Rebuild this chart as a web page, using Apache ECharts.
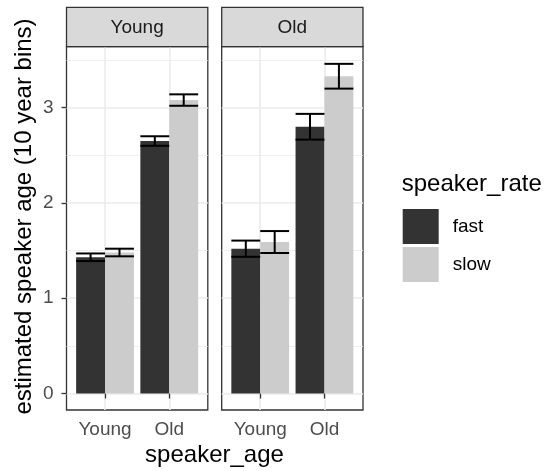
<!DOCTYPE html>
<html>
<head>
<meta charset="utf-8">
<script src="https://cdn.jsdelivr.net/npm/echarts@6/dist/echarts.min.js"></script>
<style>
  html, body { margin: 0; padding: 0; background: #fff; }
  #chart { width: 548px; height: 471px; }
</style>
</head>
<body>
<div id="chart"></div>
<script>
// x categories and facet panels
const speakerAge = ['Young', 'Old'];
const panels = ['Young', 'Old'];
const rates = ['fast', 'slow'];
// mean estimated age per speaker_age, one array per panel and rate
const fastYoung = [1.43, 2.65];
const slowYoung = [1.48, 3.08];
const fastOld = [1.52, 2.80];
const slowOld = [1.59, 3.33];
// error bar half widths
const fastYoungErr = [0.04, 0.05];
const slowYoungErr = [0.04, 0.06];
const fastOldErr = [0.085, 0.135];
const slowOldErr = [0.115, 0.13];
// y ticks
const yTicks = [0, 1, 2, 3];
const yMinor = [0.5, 1.5, 2.5, 3.5];

const FONT = 'Liberation Sans, Arial, sans-serif';
const colors = { fast: '#333333', slow: '#cccccc' };
const Y_MIN = -0.173, Y_MAX = 3.64;
const panelTop = 46.7, panelH = 363.3, panelW = 141.3;
const panelLeft = [66.5, 221.7];
const stripTop = 7.3;

const chart = echarts.init(document.getElementById('chart'));

function rows(vals, errs) {
  return vals.map((v, i) => errs ? [i + 1, v, errs[i]] : [i + 1, v]);
}

// bars dodged: fast left half, slow right half (width 0.45 each)
function barItem(offset) {
  return function (params, api) {
    const x = api.value(0), y = api.value(1);
    const p0 = api.coord([x + offset, y]);
    const p1 = api.coord([x + offset + 0.45, 0]);
    return {
      type: 'rect',
      shape: { x: p0[0], y: p0[1], width: p1[0] - p0[0], height: p1[1] - p0[1] },
      style: { fill: api.visual('color') }
    };
  };
}

function errItem(offset) {
  return function (params, api) {
    const x = api.value(0) + offset, m = api.value(1), e = api.value(2);
    const hi = api.coord([x, m + e]), lo = api.coord([x, m - e]);
    const l = api.coord([x - 0.225, m])[0], r = api.coord([x + 0.225, m])[0];
    const st = { stroke: '#000', lineWidth: 2 };
    return {
      type: 'group',
      children: [
        { type: 'line', shape: { x1: l, y1: hi[1], x2: r, y2: hi[1] }, style: st },
        { type: 'line', shape: { x1: l, y1: lo[1], x2: r, y2: lo[1] }, style: st },
        { type: 'line', shape: { x1: hi[0], y1: hi[1], x2: lo[0], y2: lo[1] }, style: st }
      ]
    };
  };
}

const grids = [], xAxes = [], yAxes = [], series = [], graphics = [];
const panelData = [
  { fast: fastYoung, slow: slowYoung, fastErr: fastYoungErr, slowErr: slowYoungErr },
  { fast: fastOld, slow: slowOld, fastErr: fastOldErr, slowErr: slowOldErr }
];

panels.forEach((name, k) => {
  grids.push({
    left: panelLeft[k], top: panelTop, width: panelW, height: panelH,
    show: true, backgroundColor: '#fff', borderColor: '#333333', borderWidth: 1.3
  });
  xAxes.push({
    type: 'value', gridIndex: k, min: 0.4, max: 2.6,
    axisLine: { show: false },
    axisTick: { show: true, length: 5, customValues: [1, 2], lineStyle: { color: '#333333', width: 1.3 } },
    axisLabel: {
      customValues: [1, 2], margin: 10, fontSize: 19, color: '#4d4d4d', fontFamily: FONT,
      formatter: v => speakerAge[Math.round(v) - 1]
    },
    splitLine: { show: true, lineStyle: { color: '#ebebeb', width: 1.6 } }
  });
  yAxes.push({
    type: 'value', gridIndex: k, min: Y_MIN, max: Y_MAX,
    axisLine: { show: false },
    axisTick: { show: k === 0, length: 5, customValues: yTicks, lineStyle: { color: '#333333', width: 1.3 } },
    axisLabel: { show: k === 0, customValues: yTicks, margin: 13, fontSize: 19, color: '#4d4d4d', fontFamily: FONT },
    splitLine: { show: true, lineStyle: { color: '#ebebeb', width: 1.6 } }
  });
  yAxes.push({
    type: 'value', gridIndex: k, min: Y_MIN, max: Y_MAX, position: 'left',
    axisLine: { show: false },
    axisTick: { show: false, customValues: yMinor },
    axisLabel: { show: false, customValues: yMinor },
    splitLine: { show: true, lineStyle: { color: '#ebebeb', width: 0.8 } }
  });
  const d = panelData[k];
  rates.forEach((rate, j) => {
    const offset = j === 0 ? -0.45 : 0;
    series.push({
      type: 'custom', name: rate, xAxisIndex: k, yAxisIndex: k * 2,
      itemStyle: { color: colors[rate] },
      renderItem: barItem(offset),
      data: rows(d[rate]), z: 2
    });
  });
  rates.forEach((rate, j) => {
    const offset = j === 0 ? -0.225 : 0.225;
    series.push({
      type: 'custom', name: rate + ' err', xAxisIndex: k, yAxisIndex: k * 2,
      renderItem: errItem(offset),
      data: rows(d[rate], d[rate + 'Err']), z: 3
    });
  });
  // facet strip
  graphics.push({
    type: 'rect', z: 10,
    shape: { x: panelLeft[k], y: stripTop, width: panelW, height: panelTop - stripTop },
    style: { fill: '#d9d9d9', stroke: '#333333', lineWidth: 1.3 }
  });
  graphics.push({
    type: 'text', z: 11, x: panelLeft[k] + panelW / 2, y: (stripTop + panelTop) / 2 + 1,
    style: { text: name, fill: '#1a1a1a', fontSize: 19, fontFamily: FONT, align: 'center', verticalAlign: 'middle' }
  });
});

// axis titles and legend title
graphics.push({
  type: 'text', x: 24, y: 216.5, rotation: Math.PI / 2,
  style: { text: 'estimated speaker age (10 year bins)', fill: '#000', fontSize: 24, fontFamily: FONT, align: 'center', verticalAlign: 'middle' }
});
graphics.push({
  type: 'text', x: 214.5, y: 455,
  style: { text: 'speaker_age', fill: '#000', fontSize: 24, fontFamily: FONT, align: 'center', verticalAlign: 'middle' }
});
graphics.push({
  type: 'text', x: 401.7, y: 184,
  style: { text: 'speaker_rate', fill: '#000', fontSize: 24, fontFamily: FONT, align: 'left', verticalAlign: 'middle' }
});

chart.setOption({
  animation: false,
  grid: grids,
  xAxis: xAxes,
  yAxis: yAxes,
  legend: {
    data: rates, left: 402.7, top: 209, orient: 'vertical', padding: 0,
    icon: 'rect', itemWidth: 36, itemHeight: 35, itemGap: 3, selectedMode: false,
    textStyle: { fontSize: 19, color: '#000', fontFamily: FONT, padding: [0, 0, 0, 9] }
  },
  series: series,
  graphic: graphics
});
</script>
</body>
</html>
